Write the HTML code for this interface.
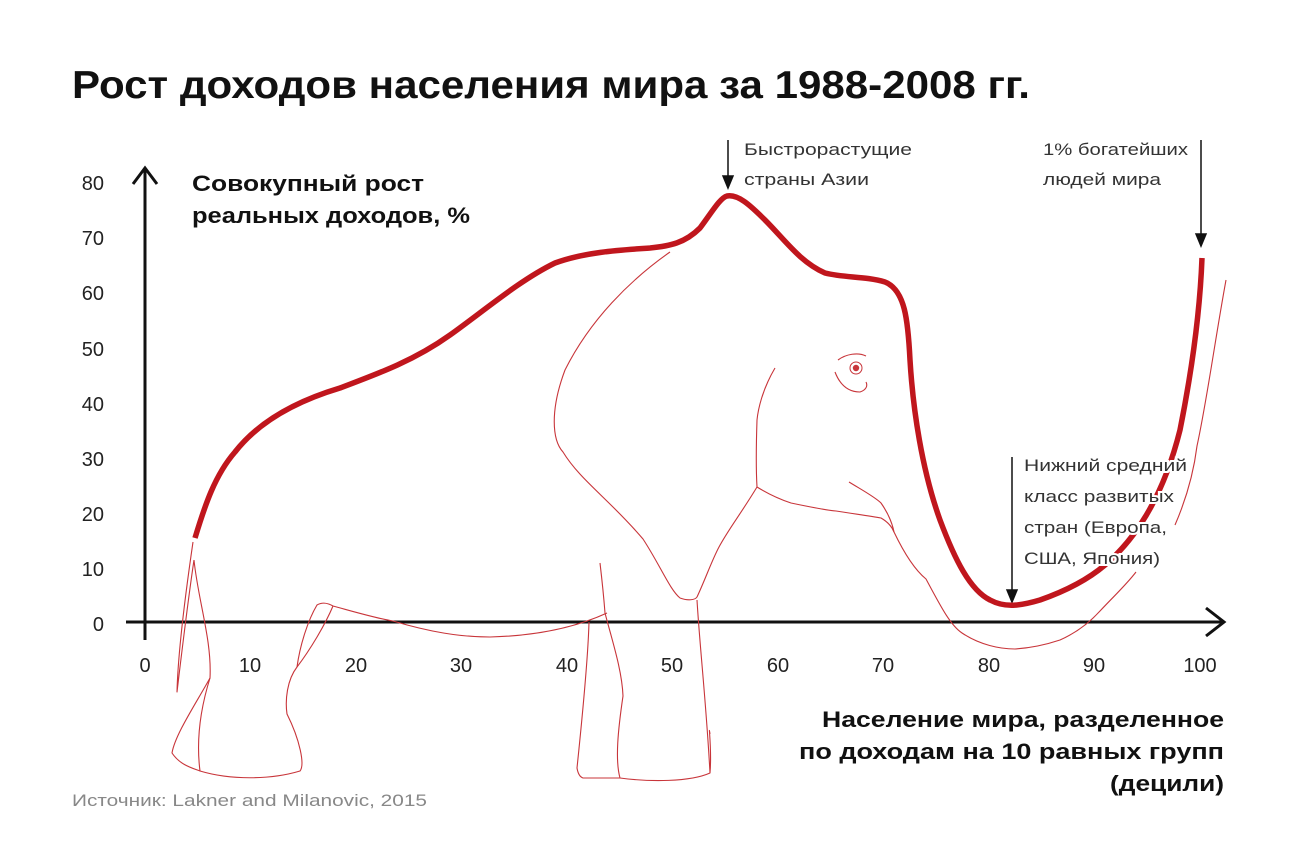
<!DOCTYPE html>
<html><head><meta charset="utf-8"><style>
html,body{margin:0;padding:0;background:#fff}
svg{display:block}
text{font-family:"Liberation Sans","DejaVu Sans",sans-serif}
</style></head><body>
<svg width="1300" height="864" viewBox="0 0 1300 864" xmlns="http://www.w3.org/2000/svg">
<text x="72" y="98" font-size="39" font-weight="bold" fill="#111" textLength="958" lengthAdjust="spacingAndGlyphs">Рост доходов населения мира за 1988-2008 гг.</text>
<g font-size="20" fill="#222" text-anchor="end">
<text x="104" y="190">80</text><text x="104" y="245">70</text><text x="104" y="300">60</text>
<text x="104" y="356">50</text><text x="104" y="411">40</text><text x="104" y="466">30</text>
<text x="104" y="521">20</text><text x="104" y="576">10</text><text x="104" y="631">0</text>
</g>
<g font-size="20" fill="#222" text-anchor="middle">
<text x="145" y="672">0</text><text x="250" y="672">10</text><text x="356" y="672">20</text>
<text x="461" y="672">30</text><text x="567" y="672">40</text><text x="672" y="672">50</text>
<text x="778" y="672">60</text><text x="883" y="672">70</text><text x="989" y="672">80</text>
<text x="1094" y="672">90</text><text x="1200" y="672">100</text>
</g>
<g font-size="22" font-weight="bold" fill="#111">
<text x="192" y="191" textLength="232" lengthAdjust="spacingAndGlyphs">Совокупный рост</text>
<text x="192" y="223" textLength="278" lengthAdjust="spacingAndGlyphs">реальных доходов, %</text>
</g>
<g font-size="22" font-weight="bold" fill="#111">
<text x="822" y="727" textLength="402" lengthAdjust="spacingAndGlyphs">Население мира, разделенное</text>
<text x="799" y="759" textLength="425" lengthAdjust="spacingAndGlyphs">по доходам на 10 равных групп</text>
<text x="1110" y="791" textLength="114" lengthAdjust="spacingAndGlyphs">(децили)</text>
</g>
<text x="72" y="806" font-size="17" fill="#888" textLength="355" lengthAdjust="spacingAndGlyphs">Источник: Lakner and Milanovic, 2015</text>
<!-- axes -->
<g stroke="#111" stroke-width="3" fill="none">
<line x1="145" y1="168" x2="145" y2="640"/><path d="M133 184 L145 168 L157 184"/>
<line x1="126" y1="622" x2="1222" y2="622"/><path d="M1206 608 L1224 622 L1206 636"/>
</g>
<!-- annotation arrows -->
<g stroke="#111" stroke-width="1.5" fill="#111">
<line x1="728" y1="140" x2="728" y2="178"/><path d="M723 176 L728 188 L733 176Z"/>
<line x1="1201" y1="140" x2="1201" y2="236"/><path d="M1196 234 L1201 246 L1206 234Z"/>
<line x1="1012" y1="457" x2="1012" y2="592"/><path d="M1007 590 L1012 602 L1017 590Z"/>
</g>
<!-- thin elephant -->
<g stroke="#c8353a" stroke-width="1.1" fill="none" stroke-linejoin="round">
<path d="M193 542 C186 590 178 650 177 692 C182 650 188 600 194 560"/>
<path d="M194 560 C198 600 212 640 210 678 C195 705 175 735 172 753 C180 765 192 768 200 771"/>
<path d="M210 678 C200 710 196 740 200 771 C230 780 270 780 300 771 C305 765 300 740 287 714 C285 700 287 680 297 667 C310 650 325 625 333 606"/>
<path d="M297 667 C300 645 308 620 317 605 C322 602 328 603 333 606 C355 612 375 618 393 621 C430 632 460 637 490 637 C530 636 570 630 607 613"/>
<path d="M600 563 C602 580 604 600 605 613 C612 640 622 670 623 696 C618 730 615 760 620 778 C650 782 690 782 710 773 C712 750 708 720 710 734"/>
<path d="M589 622 C588 660 582 720 577 768 C578 774 580 777 583 778 L620 778"/>
<path d="M697 600 C700 650 706 700 710 773"/>
<path d="M670 252 C630 280 590 320 565 370 C550 410 552 440 563 452 C580 480 610 500 643 539 C660 565 670 590 680 598 C688 601 695 600 697 597 C705 580 712 560 719 547 C728 530 740 515 757 487"/>
<path d="M775 368 C762 390 758 410 757 420 C756 450 756 470 757 487 C770 495 782 500 791 503 C810 507 825 510 836 511 C855 514 870 516 881 518 C888 522 892 527 894 532"/>
<path d="M849 482 C862 490 875 497 881 503 C888 513 892 522 894 532 C905 555 915 570 926 579 C940 605 950 625 962 633 C980 645 1000 649 1015 649 C1030 648 1045 645 1060 640 C1078 632 1090 622 1100 611 C1115 595 1126 585 1136 572"/>
<path d="M1175 525 C1188 495 1194 470 1197 446 C1207 400 1215 340 1226 280"/>
<path d="M838 360 C846 354 858 352 866 356 M835 372 C840 385 848 392 860 392 C866 390 868 386 866 382"/>
</g>
<circle cx="856" cy="368" r="3.2" fill="#c8353a"/>
<circle cx="856" cy="368" r="6" fill="none" stroke="#c8353a" stroke-width="1"/>
<!-- main thick curve -->
<path d="M195 538 C205 505 215 475 235 452 C260 420 300 400 340 388 C380 373 415 360 450 335 C485 310 520 280 555 263 C585 252 620 250 650 248 C670 246 685 243 700 228 C712 212 720 198 727 196 C738 194 750 205 765 220 C785 240 800 262 825 273 C845 278 865 276 885 282 C905 290 908 320 910 360 C913 410 922 470 940 520 C955 560 970 590 990 600 C1005 608 1020 606 1040 600 C1060 593 1085 582 1105 565 C1140 535 1165 490 1180 430 C1192 370 1200 310 1202 258" stroke="#c0161d" stroke-width="5.5" fill="none" stroke-linecap="butt"/>
<g font-size="17" fill="#333" stroke="#fff" stroke-width="4" paint-order="stroke">
<text x="744" y="155" textLength="168" lengthAdjust="spacingAndGlyphs">Быстрорастущие</text>
<text x="744" y="185" textLength="125" lengthAdjust="spacingAndGlyphs">страны Азии</text>
<text x="1043" y="155" textLength="145" lengthAdjust="spacingAndGlyphs">1% богатейших</text>
<text x="1043" y="185" textLength="118" lengthAdjust="spacingAndGlyphs">людей мира</text>
<text x="1024" y="471" textLength="163" lengthAdjust="spacingAndGlyphs">Нижний средний</text>
<text x="1024" y="502" textLength="150" lengthAdjust="spacingAndGlyphs">класс развитых</text>
<text x="1024" y="533" textLength="143" lengthAdjust="spacingAndGlyphs">стран (Европа,</text>
<text x="1024" y="564" textLength="136" lengthAdjust="spacingAndGlyphs">США, Япония)</text>
</g>
</svg>
</body></html>
